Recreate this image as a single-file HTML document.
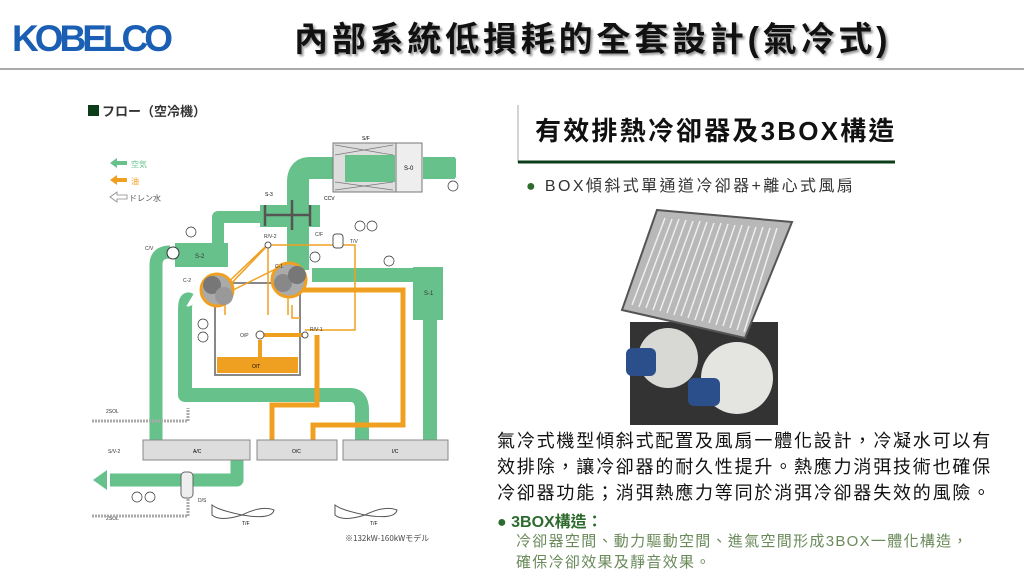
<!DOCTYPE html>
<html><head><meta charset="utf-8"><style>
body{margin:0;width:1024px;height:583px;background:#fff;overflow:hidden;position:relative;font-family:"Liberation Sans","Noto Sans CJK TC",sans-serif}
.a{position:absolute;white-space:nowrap}
</style></head><body>
<div class="a" style="left:12px;top:18px;font:bold 37px 'Liberation Sans',sans-serif;color:#1a5fb4;letter-spacing:-4px">KOBELCO</div>
<div class="a" style="left:294px;top:12px;font-weight:bold;font-size:34px;letter-spacing:3.8px;color:#111;text-shadow:2px 2px 2px #999">內部系統低損耗的全套設計(氣冷式)</div>
<div class="a" style="left:0;top:68px;width:1024px;height:2px;background:#aaa"></div>

<svg class="a" style="left:0;top:0" width="1024" height="583" font-family="Liberation Sans,sans-serif">
<rect x="88" y="105" width="11" height="11" fill="#0b3d1a"/>
<text x="102" y="116" font-size="13" font-weight="bold" fill="#333" font-family="Noto Sans CJK JP,sans-serif">フロー（空冷機）</text>
<path d="M110 163 l7 -5 v3 h10 v4 h-10 v3z" fill="#66c28a"/><text x="131" y="167" font-size="8" fill="#66c28a" font-family="Noto Sans CJK JP,sans-serif">空気</text>
<path d="M110 180 l7 -5 v3 h10 v4 h-10 v3z" fill="#f0a020"/><text x="131" y="184" font-size="8" fill="#f0a020" font-family="Noto Sans CJK JP,sans-serif">油</text>
<path d="M110 197 l7 -5 v3 h10 v4 h-10 v3z" fill="none" stroke="#888" stroke-width="0.8"/><text x="129" y="201" font-size="8" fill="#555" font-family="Noto Sans CJK JP,sans-serif">ドレン水</text>
<g fill="none" stroke="#66c28a" stroke-linejoin="round">
<path d="M333 168 H310 Q298 168 298 182 V270" stroke-width="22"/>
<path d="M423 168 H455" stroke-width="22"/>
<path d="M262 217 H218 V255" stroke-width="12"/>
<path d="M156 440 V265 Q156 252 170 252" stroke-width="13"/>
<path d="M430 440 V290" stroke-width="14"/>
<path d="M312 275 H420" stroke-width="14"/>
<path d="M190 300 Q185 297 185 310 V395 H350 Q362 395 362 410 V440" stroke-width="14"/>
<path d="M237 460 V480 H110" stroke-width="13"/>
</g>
<path d="M93 480 l14 -10 v20z" fill="#66c28a"/>
<path d="M442 168 l14 -10 v20z" fill="#66c28a"/>
<rect x="175" y="243" width="53" height="24" fill="#66c28a"/><text x="195" y="258" font-size="6" fill="#333">S-2</text>
<rect x="413" y="267" width="30" height="53" fill="#66c28a"/><text x="424" y="295" font-size="6" fill="#333">S-1</text>
<rect x="333" y="143" width="89" height="49" fill="#ddd" stroke="#777"/>
<rect x="345" y="155" width="50" height="27" fill="#66c28a"/>
<path d="M335 145 L393 155 M393 145 L335 155 M335 182 L393 190 M393 182 L335 190" stroke="#777" stroke-width="0.7"/>
<rect x="396" y="143" width="26" height="49" fill="#eee" stroke="#777"/><text x="404" y="170" font-size="6">S-0</text>
<text x="362" y="140" font-size="5">S/F</text>
<rect x="260" y="205" width="60" height="22" fill="#66c28a"/>
<path d="M265 205 V226 M265 215 H310 M292 200 V230 M310 205 V226" stroke="#555" stroke-width="2.5" fill="none"/>
<text x="265" y="196" font-size="5">S-3</text><text x="324" y="200" font-size="5">CCV</text>
<rect x="215" y="283" width="85" height="92" fill="#fff" stroke="#888" stroke-width="2"/>
<rect x="217" y="357" width="81" height="16" fill="#f0a020"/><text x="252" y="368" font-size="5">O/T</text>
<g fill="none" stroke="#f0a020">
<path d="M300 290 H403 V425 H313 V440" stroke-width="5"/>
<path d="M317 335 V405 H272 V440" stroke-width="5"/>
<path d="M262 335 H305" stroke-width="4"/>
<path d="M260 340 V357" stroke-width="4"/>
<path d="M225 290 L268 245 H355 V330 H305 M220 290 L265 247 M233 290 L290 262 M268 245 L268 315 M288 295 V315 M225 295 V315 M292 305 V318 H300" stroke-width="1.5"/>
</g>
<circle cx="268" cy="245" r="3" fill="#fff" stroke="#555"/>
<circle cx="305" cy="335" r="3" fill="#fff" stroke="#555"/>
<circle cx="260" cy="335" r="4" fill="#fff" stroke="#555"/>
<rect x="333" y="234" width="10" height="14" rx="3" fill="#fff" stroke="#555"/>
<circle cx="217" cy="290" r="16" fill="#aaa" stroke="#f0a020" stroke-width="3"/>
<circle cx="212" cy="285" r="9" fill="#777"/><circle cx="224" cy="296" r="9" fill="#999"/>
<circle cx="289" cy="280" r="17" fill="#aaa" stroke="#f0a020" stroke-width="3"/>
<circle cx="283" cy="283" r="9" fill="#888"/><circle cx="297" cy="275" r="9" fill="#777"/>
<circle cx="173" cy="253" r="6" fill="#fff" stroke="#333"/>
<g fill="#fff" stroke="#333" stroke-width="0.7">
<circle cx="191" cy="232" r="5"/><circle cx="360" cy="226" r="5"/><circle cx="372" cy="226" r="5"/><circle cx="315" cy="257" r="5"/><circle cx="389" cy="261" r="5"/><circle cx="203" cy="324" r="5"/><circle cx="203" cy="337" r="5"/><circle cx="453" cy="186" r="5"/><circle cx="137" cy="497" r="5"/><circle cx="150" cy="497" r="5"/>
</g>
<rect x="181" y="472" width="12" height="26" rx="4" fill="#eee" stroke="#666"/>
<g font-size="5" fill="#333">
<text x="145" y="250">C/V</text><text x="183" y="282">C-2</text><text x="275" y="268">C-1</text><text x="264" y="238">R/V-2</text><text x="315" y="236">C/F</text><text x="350" y="243">T/V</text><text x="310" y="331">R/V-1</text><text x="240" y="337">O/P</text><text x="198" y="502">D/S</text><text x="108" y="453">S/V-2</text><text x="106" y="413">2SOL</text><text x="106" y="520">2SOL</text>
</g>
<path d="M92 421 H188 V408 M92 516 H188 V498" fill="none" stroke="#aaa" stroke-width="3" stroke-dasharray="2 1"/>
<rect x="143" y="440" width="107" height="20" fill="#ddd" stroke="#888"/><text x="193" y="453" font-size="5">A/C</text>
<rect x="257" y="440" width="80" height="20" fill="#ddd" stroke="#888"/><text x="292" y="453" font-size="5">O/C</text>
<rect x="343" y="440" width="105" height="20" fill="#ddd" stroke="#888"/><text x="392" y="453" font-size="5">I/C</text>
<path d="M212 505 Q218 510 242 515 Q262 505 274 510 Q272 520 242 515 Q220 522 212 515Z" fill="none" stroke="#555"/>
<path d="M335 505 Q341 510 365 515 Q385 505 397 510 Q395 520 365 515 Q343 522 335 515Z" fill="none" stroke="#555"/>
<text x="242" y="525" font-size="5">T/F</text><text x="370" y="525" font-size="5">T/F</text>
<text x="345" y="541" font-size="8" fill="#444" font-family="Noto Sans CJK JP,sans-serif">※132kW-160kWモデル</text>
<line x1="518" y1="105" x2="518" y2="163" stroke="#aaa"/>
<line x1="518" y1="162" x2="895" y2="162" stroke="#0b3d1a" stroke-width="3"/>
<rect x="630" y="322" width="148" height="103" fill="#333"/>
<circle cx="668" cy="358" r="30" fill="#d8d8d4"/><circle cx="737" cy="378" r="36" fill="#e4e4e0"/>
<rect x="626" y="348" width="30" height="28" rx="6" fill="#2a4f8a"/><rect x="688" y="378" width="32" height="28" rx="6" fill="#2a4f8a"/>
<polygon points="657,210 792,222 745,338 622,310" fill="#b8b8b8" stroke="#555" stroke-width="2"/>
<g stroke="#eee" stroke-width="1.5">
<path d="M665 218 L632 305 M672 219 L639 307 M679 219 L646 308 M686 220 L653 310 M693 221 L660 311 M700 221 L667 313 M707 222 L674 315 M714 223 L681 316 M721 223 L688 318 M728 224 L695 320 M735 225 L702 321 M742 225 L709 323 M749 226 L716 325 M756 227 L723 326 M763 227 L730 328 M770 228 L737 330 M777 228 L744 332"/>
</g>
</svg>
<div class="a" style="left:535px;top:111px;font-weight:bold;font-size:26px;letter-spacing:2.2px;color:#111">有效排熱冷卻器及3BOX構造</div>
<div class="a" style="left:526px;top:172px;font-size:16px;letter-spacing:2.4px;color:#333"><span style="color:#2e6b2e">●</span> BOX傾斜式單通道冷卻器+離心式風扇</div>
<div class="a" style="left:497px;top:428px;font-size:18px;letter-spacing:1.8px;line-height:26px;color:#111">氣冷式機型傾斜式配置及風扇一體化設計，冷凝水可以有<br>效排除，讓冷卻器的耐久性提升。熱應力消弭技術也確保<br>冷卻器功能；消弭熱應力等同於消弭冷卻器失效的風險。</div>
<div class="a" style="left:497px;top:508px;font-size:16px;font-weight:bold;color:#2e6b2e">● 3BOX構造：</div>
<div class="a" style="left:516px;top:531px;font-size:15px;letter-spacing:1.3px;line-height:21px;color:#6a8a5a">冷卻器空間、動力驅動空間、進氣空間形成3BOX一體化構造，<br>確保冷卻效果及靜音效果。</div>
</body></html>
